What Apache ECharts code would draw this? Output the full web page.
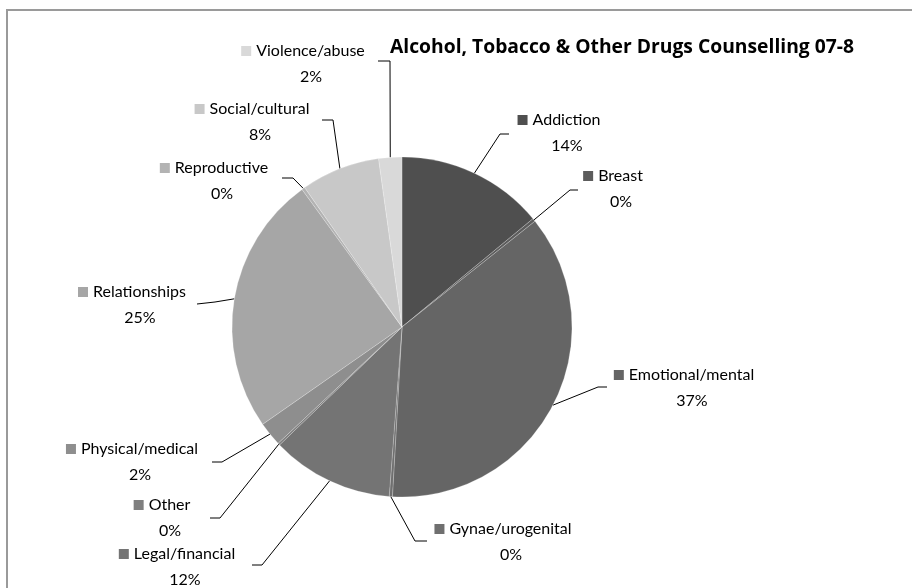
<!DOCTYPE html>
<html>
<head>
<meta charset="utf-8">
<script src="https://cdn.jsdelivr.net/npm/echarts@6/dist/echarts.min.js"></script>
<style>
html,body{margin:0;padding:0;background:#fff;}
#chart{width:912px;height:588px;}
</style>
</head>
<body>
<div id="chart"></div>
<script>
// ---- data ----
const title = 'Alcohol, Tobacco & Other Drugs Counselling 07-8';
const categories = ['Addiction','Breast','Emotional/mental','Gynae/urogenital','Legal/financial','Other','Physical/medical','Relationships','Reproductive','Social/cultural','Violence/abuse'];
const values = [14.0, 0.3, 36.6, 0.3, 11.6, 0.2, 2.3, 24.7, 0.3, 7.5, 2.2];

// ---- styling / layout ----
const colors = ['#4f4f4f','#5c5c5c','#656565','#6f6f6f','#747474','#7f7f7f','#8e8e8e','#a6a6a6','#b3b3b3','#c8c8c8','#d9d9d9'];
// label block centers (name text centered above percentage)
const labelCenter = [[567,133],[621,189],[692,388],[511,542],[185,567],[170,518],[140,462],[140,305],[222,181],[260,122],[311,64]];
// label line elbow and end points
const lineElbow = [[500,134],[570,190],[598,387],[415,541],[262,565],[220,518],[222,462],[215,302],[293,178],[333,120],[390,61]];
const lineEnd   = [[509,134],[578,190],[607,387],[427,541],[252,565],[210,518],[212,462],[197,304],[282,178],[322,120],[378,61]];

const FONT = 'Lato';
const rich = {
  sp: {width: 5, height: 10},
  pad: {width: 16, height: 10},
  pct: {fontSize: 16, fontFamily: FONT, color: '#000', lineHeight: 26}
};
colors.forEach((c, i) => { rich['m' + i] = {width: 10, height: 10, backgroundColor: c}; });

const chart = echarts.init(document.getElementById('chart'), null, {renderer: 'canvas'});
chart.setOption({
  animation: false,
  backgroundColor: '#ffffff',
  graphic: [{
    type: 'rect', silent: true,
    shape: {x: 7, y: 10, width: 1000, height: 1000},
    style: {fill: 'none', stroke: '#9a9a9a', lineWidth: 2}
  }],
  title: {
    text: title, left: 385, top: 33,
    textStyle: {fontFamily: 'Open Sans', fontWeight: 'bold', fontSize: 19.3, color: '#000'}
  },
  series: [{
    type: 'pie',
    center: [402, 327],
    radius: [0, 170],
    startAngle: 90,
    clockwise: true,
    data: categories.map((n, i) => ({name: n, value: values[i], itemStyle: {color: colors[i]}})),
    itemStyle: {borderWidth: 0.6, borderColor: 'rgba(255,255,255,0.35)'},
    label: {
      show: true,
      position: 'outside',
      fontFamily: FONT,
      fontSize: 16,
      color: '#000',
      lineHeight: 26,
      align: 'center',
      rich: rich,
      formatter: p => `{m${p.dataIndex}|}{sp|}${p.name}{pad|}\n{pct|${Math.round(p.percent)}%}`
    },
    labelLine: {show: true, lineStyle: {color: '#000', width: 1}, length: 10, length2: 10},
    labelLayout: function (params) {
      const i = params.dataIndex;
      const p0 = params.labelLinePoints ? params.labelLinePoints[0] : lineElbow[i];
      return {
        x: labelCenter[i][0], y: labelCenter[i][1],
        align: 'center', verticalAlign: 'middle',
        labelLinePoints: [p0, lineElbow[i], lineEnd[i]]
      };
    }
  }]
});
</script>
</body>
</html>
